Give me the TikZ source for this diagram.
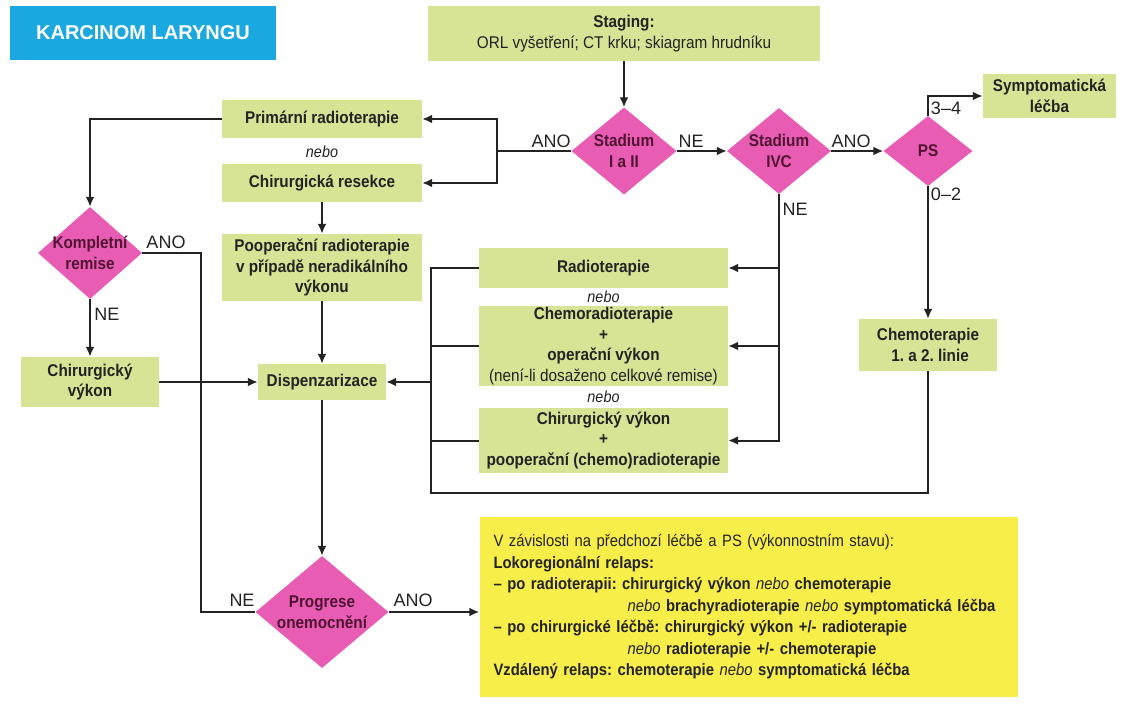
\documentclass[tikz,border=0pt]{standalone}
\usepackage{fontspec}
\setmainfont{Liberation Sans}[FakeStretch=0.9]
\newfontfamily\lblfont{Liberation Sans}
\usetikzlibrary{shapes.geometric,arrows.meta}
\frenchspacing

\definecolor{boxgreen}{RGB}{215,228,150}
\definecolor{dpink}{RGB}{232,92,180}
\definecolor{titleblue}{RGB}{27,168,225}
\definecolor{relapsyellow}{RGB}{248,238,74}
\definecolor{dtext}{RGB}{35,35,35}
\definecolor{dmaroon}{RGB}{80,20,50}

\newcommand{\nb}{{\mdseries\itshape nebo}}

\tikzset{
  box/.style={fill=boxgreen, text=dtext, font=\bfseries\fontsize{17}{20.5}\selectfont, align=center, inner sep=0pt},
  decision/.style={diamond, fill=dpink, text=dmaroon, font=\bfseries\fontsize{17}{20.5}\selectfont, align=center, inner sep=-8pt},
  conn/.style={draw=dtext, line width=2pt},
  arr/.style={conn, -{Latex[length=10pt,width=9pt]}},
  lbl/.style={font=\lblfont\fontsize{18}{20}\selectfont, text=dtext, inner sep=0pt},
  nebo/.style={font=\itshape\fontsize{16}{18}\selectfont, text=dtext, inner sep=0pt}
}

\begin{document}
\begin{tikzpicture}[x=1pt,y=-1pt]
\useasboundingbox (0,0) rectangle (1121,705);

% title and staging
\node[fill=titleblue, text=white, font=\lblfont\bfseries\fontsize{20}{24}\selectfont, minimum width=266pt, minimum height=54pt] (title) at (143,33) {KARCINOM LARYNGU};
\node[box, minimum width=392pt, minimum height=55pt] (staging) at (624,33.5) {Staging:\\ \mdseries ORL vyšetření; CT krku; skiagram hrudníku};

% decisions
\node[decision, minimum width=105pt, minimum height=87pt] (s12) at (624,151) {Stadium\\I a II};
\node[decision, minimum width=104pt, minimum height=86pt] (s4) at (779,151) {Stadium\\IVC};
\node[decision, minimum width=89pt, minimum height=70pt] (ps) at (928,151) {PS};
\node[decision, minimum width=104pt, minimum height=92pt] (kompl) at (90,253) {Kompletní\\remise};
\node[decision, minimum width=133pt, minimum height=112pt] (progrese) at (322,612) {Progrese\\onemocnění};

% left column
\node[box, minimum width=200pt, minimum height=38pt] (prim) at (322,119) {Primární radioterapie};
\node[nebo] (nebo1) at (322,152) {nebo};
\node[box, minimum width=200pt, minimum height=38pt] (resekce) at (322,183) {Chirurgická resekce};
\node[box, minimum width=200pt, minimum height=67pt] (pooper) at (322,267.5) {Pooperační radioterapie\\v případě neradikálního\\výkonu};
\node[box, minimum width=128pt, minimum height=36pt] (disp) at (322,382) {Dispenzarizace};
\node[box, minimum width=138pt, minimum height=50pt] (chirv) at (90,382) {Chirurgický\\výkon};

% middle column
\node[box, minimum width=249pt, minimum height=40pt] (radio) at (603.5,268) {Radioterapie};
\node[nebo] (nebo2) at (603.5,297) {nebo};
\node[box, minimum width=249pt, minimum height=80pt] (chemorad) at (603.5,346) {Chemoradioterapie\\+\\operační výkon\\\mdseries(není-li dosaženo celkové remise)};
\node[nebo] (nebo3) at (603.5,397) {nebo};
\node[box, minimum width=249pt, minimum height=65pt] (chirvyk) at (603.5,440.5) {Chirurgický výkon\\+\\pooperační (chemo)radioterapie};

% right column
\node[box, minimum width=133pt, minimum height=44pt] (sympt) at (1049.5,96) {Symptomatická\\léčba};
\node[box, minimum width=138pt, minimum height=52pt] (chemo) at (928,345) {Chemoterapie\\ \ 1. a 2. linie};

% relapse box
\node[fill=relapsyellow, text=dtext, font=\fontsize{16.5}{21.5}\selectfont, text width=510pt, inner xsep=14pt, minimum height=180pt, align=left] (relaps) at (748.5,607) {%
V závislosti na předchozí léčbě a PS (výkonnostním stavu):\\
\textbf{Lokoregionální relaps:}\\
\textbf{– po radioterapii: chirurgický výkon \nb{} chemoterapie}\\
\hspace*{134pt}\textbf{\nb{} brachyradioterapie \nb{} symptomatická léčba}\\
\textbf{– po chirurgické léčbě: chirurgický výkon +/- radioterapie}\\
\hspace*{134pt}\textbf{\nb{} radioterapie +/- chemoterapie}\\
\textbf{Vzdálený relaps: chemoterapie \nb{} symptomatická léčba}};

% bus points
\coordinate (abus) at (497,151);
\coordinate (lbus) at (201,612);
\coordinate (bbot) at (431,493);

% connectors
\draw[arr] (staging.south) -- (s12.north);
\draw[conn] (s12.west) -- (abus);
\draw[arr] (abus) |- (prim.east);
\draw[arr] (abus) |- (resekce.east);
\draw[arr] (s12.east) -- (s4.west);
\draw[arr] (s4.east) -- (ps.west);
\draw[arr] (ps.north) |- (sympt.west);
\draw[arr] (ps.south) -- (chemo.north);
\foreach \n in {radio,chemorad,chirvyk}
  \draw[arr] (s4.south) |- (\n.east);
\draw[conn] (chemo.south) |- (bbot) |- (radio.west);
\foreach \n in {chemorad,chirvyk}
  \draw[conn] (bbot) |- (\n.west);
\draw[arr] (bbot) |- (disp.east);
\draw[arr] (prim.west) -| (kompl.north);
\draw[arr] (kompl.south) -- (chirv.north);
\draw[conn] (kompl.east) -| (lbus) -- (progrese.west);
\draw[arr] (chirv.east) -- (disp.west);
\draw[arr] (resekce.south) -- (pooper.north);
\draw[arr] (pooper.south) -- (disp.north);
\draw[arr] (disp.south) -- (progrese.north);
\draw[arr] (progrese.east) -- (progrese.east -| relaps.west);

% labels
\node[lbl] (l1) at (551,141) {ANO};
\node[lbl] (l2) at (691,141) {NE};
\node[lbl] (l3) at (851,141) {ANO};
\node[lbl] (l4) at (946,108) {3–4};
\node[lbl] (l5) at (946,194) {0–2};
\node[lbl] (l6) at (795,209) {NE};
\node[lbl] (l7) at (166,242) {ANO};
\node[lbl] (l8) at (107,314) {NE};
\node[lbl] (l9) at (242,600) {NE};
\node[lbl] (l10) at (413,600) {ANO};
\end{tikzpicture}
\end{document}
